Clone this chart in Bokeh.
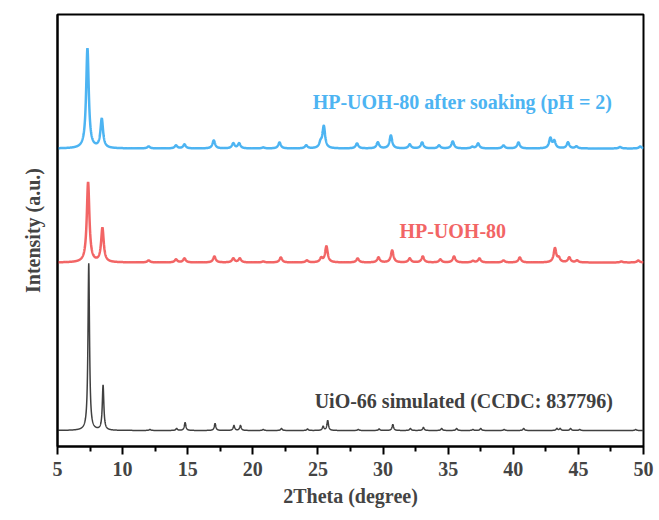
import numpy as np
from bokeh.plotting import figure
from bokeh.models import Label, FixedTicker, Range1d
from bokeh.embed import file_html
from bokeh.resources import INLINE

# ---- data (2theta in degree, peak height in a.u.) ----
sim_pos = [7.40, 8.50, 12.1, 14.15, 14.80, 17.10, 18.55, 19.05, 20.80, 22.20, 24.20, 25.40, 25.75,
           28.10, 29.70, 30.75, 32.10, 33.10, 34.50, 35.65, 36.90, 37.50, 39.30, 40.80, 43.35,
           43.60, 44.40, 45.10, 49.40]
sim_h = [167, 45, 1, 2, 8, 7, 5, 5, 1, 2, 1.5, 4, 10,
         1, 1.5, 6, 2, 3, 2, 2, 1, 2, 1, 2, 2,
         2, 2, 1, 1]

red_pos = [7.35, 8.45, 12.0, 14.10, 14.75, 17.05, 18.50, 19.00, 20.80, 22.15, 24.15, 25.25, 25.65,
           28.05, 29.65, 30.70, 32.05, 33.05, 34.40, 35.45, 36.90, 37.40, 39.25, 40.50, 43.20,
           43.50, 44.30, 44.90, 48.30, 49.60]
red_h = [80, 34, 2, 3, 4, 6, 4, 4, 1, 5, 2, 4, 16,
         4, 5, 12, 4, 6, 3, 6, 1.5, 4, 2, 5, 14,
         4, 5, 2, 1, 2]

blue_pos = [7.30, 8.40, 12.0, 14.10, 14.75, 17.00, 18.50, 18.95, 20.80, 22.05, 24.10, 25.20, 25.45,
            28.00, 29.60, 30.60, 32.05, 33.00, 34.30, 35.35, 36.85, 37.30, 39.25, 40.40, 42.85,
            43.15, 44.20, 44.85, 48.20, 49.75]
blue_h = [100, 29, 2, 3, 4, 8, 5, 5, 1, 6, 3, 5, 22,
          5, 6, 13, 4, 6, 3, 7, 1.5, 5, 3, 6, 10,
          7, 6, 2, 1.5, 2]

offsets = [16, 184, 298]          # baseline of each pattern (stacked)
names = ["UiO-66 simulated (CCDC: 837796)", "HP-UOH-80", "HP-UOH-80 after soaking (pH = 2)"]
colors = ["#404040", "#f26565", "#4db4f2"]
widths = [0.07, 0.12, 0.12]       # half width of each pattern's peaks
label_x = [36.2, 35.35, 36.1]
label_y = [46, 216, 345]

x = np.arange(5.0, 50.0001, 0.01)

def pattern(pos, h, w, base):
    y = np.full_like(x, float(base))
    for p0, a in zip(pos, h):
        y += a / (1.0 + ((x - p0) / w) ** 2)
    return y

p = figure(width=659, height=520, output_backend="svg", toolbar_location=None,
           x_range=Range1d(5, 50), y_range=Range1d(0, 432),
           min_border_left=57, min_border_right=16, min_border_top=14, min_border_bottom=74)
p.background_fill_color = "white"
p.border_fill_color = "white"
p.grid.visible = False
p.outline_line_color = "black"
p.outline_line_width = 2

series = [(sim_pos, sim_h), (red_pos, red_h), (blue_pos, blue_h)]
for (pos, h), w, base, c in zip(series, widths, offsets, colors):
    lw = 1.5 if c == "#404040" else 2.5
    p.line(x, pattern(pos, h, w, base), line_color=c, line_width=lw)

for name, c, lx, ly in zip(names, colors, label_x, label_y):
    p.add_layout(Label(x=lx, y=ly, text=name, text_color=c, text_font="Liberation Serif",
                       text_font_style="bold", text_font_size="20px",
                       text_align="center", text_baseline="middle"))

ax = p.xaxis[0]
ax.ticker = FixedTicker(ticks=list(range(5, 51, 5)), minor_ticks=[v + 2.5 for v in range(5, 50, 5)])
ax.axis_label = "2Theta (degree)"
ax.axis_label_text_font = "Liberation Serif"
ax.axis_label_text_font_style = "bold"
ax.axis_label_text_font_size = "20px"
ax.axis_label_standoff = 6
ax.major_label_text_font = "Liberation Serif"
ax.major_label_text_font_style = "bold"
ax.major_label_text_font_size = "20px"
ax.major_label_standoff = 7
ax.major_tick_out = 8
ax.major_tick_in = 0
ax.minor_tick_out = 5
ax.minor_tick_in = 0
ax.axis_line_width = 2
ax.major_tick_line_width = 2
ax.minor_tick_line_width = 2
ax.axis_line_color = "black"

ay = p.yaxis[0]
ay.ticker = FixedTicker(ticks=[])
ay.axis_label = "Intensity (a.u.)"
ay.axis_label_text_font = "Liberation Serif"
ay.axis_label_text_font_style = "bold"
ay.axis_label_text_font_size = "20px"
ay.axis_label_standoff = 14
ay.major_label_text_font_size = "0px"
ay.major_label_standoff = 0
ay.major_tick_out = 0
ay.minor_tick_out = 0
ay.axis_line_width = 2
ay.axis_line_color = "black"

open("out.html", "w").write(file_html(p, INLINE))
